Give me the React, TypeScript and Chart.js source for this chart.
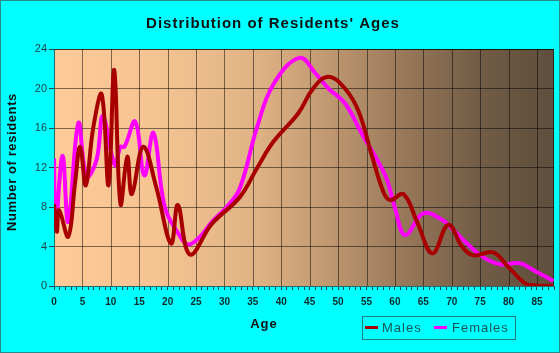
import React, { useEffect, useRef } from "react";
import { Chart, registerables } from "chart.js";

Chart.register(...registerables);

const chartTitle = "Distribution of Residents' Ages";
const xTitle = "Age";
const yTitle = "Number of residents";
const seriesNames = ["Males", "Females"];

const maleAges = [0, 0.5, 0.9, 2.5, 3.7, 4.6, 5.6, 6.9, 8.4, 9.6, 10.6, 11.7, 12.9, 13.7, 15.7, 18, 20.6, 21.8, 23.9, 27.8, 32.7, 35.7, 38.6, 43, 45.6, 48.3, 51.2, 53.6, 55.9, 58, 59.2, 61.5, 63.9, 66.6, 69.4, 71.8, 73.8, 77.3, 80, 83.5, 87.9];
const maleCounts = [8.3, 5.5, 7.7, 5.0, 10.4, 14.1, 10.2, 16.0, 19.4, 10.2, 21.9, 8.3, 13.1, 9.3, 14.1, 10.0, 4.3, 8.2, 3.2, 6.3, 9.0, 11.9, 14.6, 17.5, 20.0, 21.2, 20.0, 17.7, 13.3, 9.5, 8.7, 9.3, 6.5, 3.3, 6.2, 4.0, 3.1, 3.4, 1.9, 0.1, 0];

const femaleAges = [0, 0.3, 1.5, 2.5, 4.3, 5.75, 7.5, 8.6, 10.7, 11.7, 12.4, 14.3, 15.9, 17.5, 19.5, 21.9, 23.6, 25.7, 27.8, 30.4, 32.7, 35.7, 38.6, 43.2, 46.2, 48.3, 51.2, 54.0, 58.3, 60, 61.8, 65, 68.3, 70.6, 72.7, 75.6, 78.5, 82, 84.4, 87.9];
const femaleCounts = [12.9, 6.4, 13.2, 6.5, 16.5, 11.1, 12.8, 17.2, 12.25, 14.1, 14.1, 16.65, 11.2, 15.5, 8.0, 5.3, 4.2, 5.0, 6.5, 8.0, 9.9, 16.0, 20.4, 23.1, 21.4, 20.0, 18.5, 15.6, 11.2, 7.9, 5.15, 7.35, 6.7, 5.5, 4.3, 2.9, 2.2, 2.3, 1.6, 0.5];

const xTickLabels = [0, 5, 10, 15, 20, 25, 30, 35, 40, 45, 50, 55, 60, 65, 70, 75, 80, 85];
const yTickValues = [0, 4, 8, 12, 16, 20, 24];

const seriesColors = ["#A80000", "#FF00FF"];
const FONT = "'Liberation Sans', Arial, Helvetica, sans-serif";
const GRID = "rgba(0,0,0,0.5)";

const decorPlugin = {
  id: "decor",
  beforeDraw(chart: any) {
    const { ctx, chartArea: a } = chart;
    ctx.save();
    ctx.fillStyle = "#00FFFF";
    ctx.fillRect(0, 0, chart.width, chart.height);
    const g = ctx.createLinearGradient(a.left, 0, a.right, 0);
    g.addColorStop(0, "rgb(253,202,152)");
    g.addColorStop(0.2, "rgb(246,196,146)");
    g.addColorStop(0.4, "rgb(224,179,133)");
    g.addColorStop(0.55, "rgb(192,152,112)");
    g.addColorStop(0.7, "rgb(152,120,90)");
    g.addColorStop(0.85, "rgb(114,92,70)");
    g.addColorStop(1, "rgb(94,78,60)");
    ctx.fillStyle = g;
    ctx.fillRect(a.left, a.top, a.right - a.left, a.bottom - a.top);
    ctx.restore();
  },
  beforeDatasetsDraw(chart: any) {
    const { ctx, chartArea: a } = chart;
    const xs = chart.scales.x;
    ctx.save();
    ctx.strokeStyle = GRID;
    ctx.lineWidth = 1;
    ctx.beginPath();
    xTickLabels.forEach((v) => {
      if (v === 0) return;
      const px = Math.round(xs.getPixelForValue(v)) + 0.5;
      ctx.moveTo(px, a.top);
      ctx.lineTo(px, a.bottom);
    });
    // frame top and right
    ctx.moveTo(a.left, a.top + 0.5);
    ctx.lineTo(a.right - 0.5, a.top + 0.5);
    ctx.lineTo(a.right - 0.5, a.bottom);
    ctx.stroke();
    ctx.restore();
  },
  afterDraw(chart: any) {
    const { ctx } = chart;
    ctx.save();
    // outer border
    ctx.strokeStyle = "#2a8a8a";
    ctx.lineWidth = 1;
    ctx.strokeRect(0.5, 0.5, chart.width - 1, chart.height - 1);

    (ctx as any).letterSpacing = "1px";
    ctx.fillStyle = "#111111";
    ctx.font = `bold 15px ${FONT}`;
    ctx.textAlign = "center";
    ctx.textBaseline = "alphabetic";
    ctx.fillText(chartTitle, 273, 28);
    ctx.font = `bold 13px ${FONT}`;
    ctx.fillText(xTitle, 264, 328);
    (ctx as any).letterSpacing = "0.6px";
    ctx.save();
    ctx.translate(12, 162);
    ctx.rotate(-Math.PI / 2);
    ctx.textBaseline = "middle";
    ctx.fillText(yTitle, 0, 0);
    ctx.restore();

    // legend
    (ctx as any).letterSpacing = "1px";
    ctx.strokeStyle = "#1f7f7f";
    ctx.lineWidth = 1;
    ctx.strokeRect(362.5, 316.5, 153, 23);
    ctx.font = `13px ${FONT}`;
    ctx.textAlign = "left";
    ctx.textBaseline = "alphabetic";
    const items = [
      { x: 365, tx: 382 },
      { x: 434, tx: 452 },
    ];
    chart.data.datasets.forEach((ds: any, i: number) => {
      const it = items[i];
      ctx.strokeStyle = ds.borderColor;
      ctx.lineWidth = 3;
      ctx.beginPath();
      ctx.moveTo(it.x, 327.5);
      ctx.lineTo(it.x + 13, 327.5);
      ctx.stroke();
      ctx.fillStyle = "#155555";
      ctx.fillText(ds.label, it.tx, 332);
    });
    ctx.restore();
  },
};

export default function App() {
  const ref = useRef<HTMLCanvasElement | null>(null);
  useEffect(() => {
    if (!ref.current) return;
    const chart = new Chart(ref.current, {
      type: "line",
      data: {
        datasets: [
          {
            label: seriesNames[0],
            data: maleAges.map((x, i) => ({ x, y: maleCounts[i] })),
            borderColor: seriesColors[0],
            borderWidth: 4,
            pointRadius: 0,
            tension: 0.4,
            fill: false,
          },
          {
            label: seriesNames[1],
            data: femaleAges.map((x, i) => ({ x, y: femaleCounts[i] })),
            borderColor: seriesColors[1],
            borderWidth: 4,
            pointRadius: 0,
            tension: 0.4,
            fill: false,
          },
        ],
      },
      plugins: [decorPlugin],
      options: {
        responsive: false,
        animation: false,
        layout: { padding: { top: 49, right: 5, left: 0, bottom: 0 } },
        plugins: { legend: { display: false }, title: { display: false }, tooltip: { enabled: false } },
        scales: {
          x: {
            type: "linear",
            min: 0,
            max: 88,
            afterFit: (s: any) => {
              s.height = 67;
            },
            afterBuildTicks: (s: any) => {
              const t = [];
              for (let v = 0; v <= 88; v++) t.push({ value: v });
              s.ticks = t;
            },
            ticks: {
              autoSkip: false,
              maxRotation: 0,
              padding: 6,
              color: "#0d2b2b",
              font: { family: FONT, size: 10, weight: "bold" },
              callback: (v: any) => (xTickLabels.includes(Number(v)) ? String(v) : ""),
            },
            grid: {
              drawOnChartArea: false,
              tickColor: "#1d4d4d",
              tickLength: 4,
            },
            border: { color: "#2a6a6a", width: 1 },
          },
          y: {
            min: 0,
            max: 24,
            afterFit: (s: any) => {
              s.width = 54;
            },
            afterBuildTicks: (s: any) => {
              s.ticks = yTickValues.map((v) => ({ value: v }));
            },
            ticks: {
              padding: 2,
              color: "#1f3f3f",
              font: { family: FONT, size: 11 },
            },
            grid: {
              color: GRID,
              tickColor: "#1d4d4d",
              tickLength: 5,
            },
            border: { color: "#2a6a6a", width: 1 },
          },
        },
      },
    });
    return () => chart.destroy();
  }, []);
  return (
    <div style={{ position: "absolute", left: 0, top: 0, width: 560, height: 353 }}>
      <canvas ref={ref} width={560} height={353} />
    </div>
  );
}
